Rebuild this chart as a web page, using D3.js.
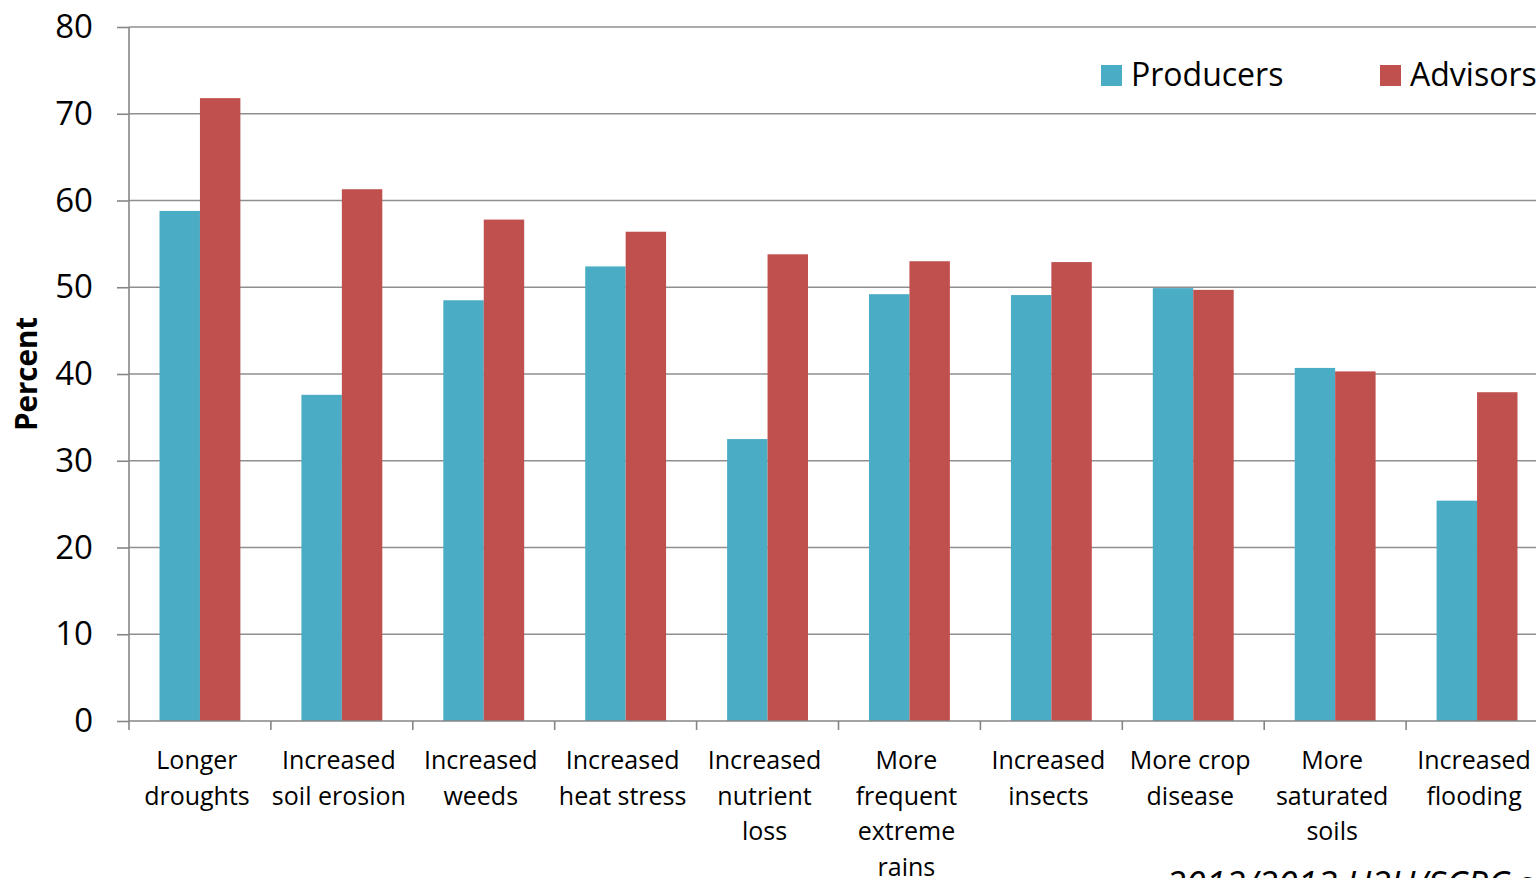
<!DOCTYPE html>
<html>
<head>
<meta charset="utf-8">
<script src="https://cdn.jsdelivr.net/npm/d3@7"></script>
<style>
  html, body { margin: 0; padding: 0; background: #fff; overflow: hidden; }
  svg { display: block; font-family: "Open Sans", sans-serif; }
</style>
</head>
<body>
<svg id="chart" width="1536" height="878"></svg>
<script>
const categories = [
  "Longer droughts", "Increased soil erosion", "Increased weeds", "Increased heat stress",
  "Increased nutrient loss", "More frequent extreme rains", "Increased insects",
  "More crop disease", "More saturated soils", "Increased flooding"
];
const categoryLines = [
  ["Longer", "droughts"], ["Increased", "soil erosion"], ["Increased", "weeds"],
  ["Increased", "heat stress"], ["Increased", "nutrient", "loss"],
  ["More", "frequent", "extreme", "rains"], ["Increased", "insects"],
  ["More crop", "disease"], ["More", "saturated", "soils"], ["Increased", "flooding"]
];
const seriesNames = ["Producers", "Advisors"];
const producers = [58.8, 37.6, 48.5, 52.4, 32.5, 49.2, 49.1, 49.9, 40.7, 25.4];
const advisors  = [71.8, 61.3, 57.8, 56.4, 53.8, 53.0, 52.9, 49.7, 40.3, 37.9];
const seriesColors = ["#4BACC6", "#C0504D"];
const yTicks = [0, 10, 20, 30, 40, 50, 60, 70, 80];
const sourceNote = "2012/2013 U2U/SCRC survey";

const svg = d3.select("#chart");
const plot = { left: 129, right: 1548, top: 27, bottom: 721 };

const x0 = d3.scaleBand().domain(categories).range([plot.left, plot.right]).padding(0);
const bw = x0.bandwidth();
const x1 = d3.scaleBand().domain(seriesNames).range([bw * 0.215, bw * 0.785]).padding(0);
const y = d3.scaleLinear().domain([0, 80]).range([plot.bottom, plot.top]);

// gridlines
svg.append("g").selectAll("line").data(yTicks.filter(d => d > 0)).join("line")
  .attr("x1", plot.left).attr("x2", plot.right)
  .attr("y1", d => y(d)).attr("y2", d => y(d))
  .attr("stroke", "#8f8f8f").attr("stroke-width", 1.6);

// bars
const data = categories.map((c, i) => ({ c, vals: [producers[i], advisors[i]] }));
const groups = svg.append("g").selectAll("g").data(data).join("g")
  .attr("transform", d => `translate(${x0(d.c)},0)`);
groups.selectAll("rect").data(d => d.vals.map((v, k) => ({ s: seriesNames[k], v, k })))
  .join("rect")
  .attr("x", d => x1(d.s)).attr("width", x1.bandwidth())
  .attr("y", d => y(d.v)).attr("height", d => y(0) - y(d.v))
  .attr("fill", d => seriesColors[d.k]);

// y axis
const yAxis = d3.axisLeft(y).tickValues(yTicks).tickSize(12).tickPadding(24).tickSizeOuter(0);
const gy = svg.append("g").attr("transform", `translate(${plot.left},0)`).call(yAxis);
gy.select(".domain").remove();
gy.selectAll(".tick line").attr("stroke", "#868686").attr("stroke-width", 1.6);
gy.selectAll(".tick text").attr("font-size", 33).attr("fill", "#000")
  .attr("font-family", "Open Sans, sans-serif");
svg.append("line").attr("x1", plot.left).attr("x2", plot.left)
  .attr("y1", plot.top).attr("y2", plot.bottom + 9)
  .attr("stroke", "#868686").attr("stroke-width", 1.6);

// x axis
svg.append("line").attr("x1", plot.left).attr("x2", plot.right)
  .attr("y1", plot.bottom).attr("y2", plot.bottom)
  .attr("stroke", "#868686").attr("stroke-width", 1.6);
svg.append("g").selectAll("line").data(categories.slice(1)).join("line")
  .attr("x1", d => x0(d)).attr("x2", d => x0(d))
  .attr("y1", plot.bottom).attr("y2", plot.bottom + 9)
  .attr("stroke", "#868686").attr("stroke-width", 1.6);

const lbl = svg.append("g").selectAll("text").data(categories).join("text")
  .attr("text-anchor", "middle").attr("font-size", 25).attr("fill", "#000")
  .attr("transform", d => `translate(${x0(d) + bw / 2 - 3},${plot.bottom + 48})`);
lbl.selectAll("tspan").data((d, i) => categoryLines[i]).join("tspan")
  .attr("x", 0).attr("y", (d, i) => i * 35.5).text(d => d);

// y title
svg.append("text").attr("transform", `translate(37,374) rotate(-90)`)
  .attr("text-anchor", "middle").attr("font-size", 29.5).attr("font-weight", "bold")
  .attr("fill", "#000").text("Percent");

// legend
const legX = [1101, 1380];
const leg = svg.append("g").selectAll("g").data(seriesNames).join("g")
  .attr("transform", (d, i) => `translate(${legX[i]},65)`);
leg.append("rect").attr("width", 21).attr("height", 21).attr("fill", (d, i) => seriesColors[i]);
leg.append("text").attr("x", 30).attr("y", 20.5).attr("font-size", 32).attr("fill", "#000").text(d => d);

// source note (cut off at bottom, as in the reference)
svg.append("text").attr("x", 1166).attr("y", 897).attr("font-size", 36)
  .attr("font-style", "italic").attr("fill", "#000").text(sourceNote);
</script>
</body>
</html>
